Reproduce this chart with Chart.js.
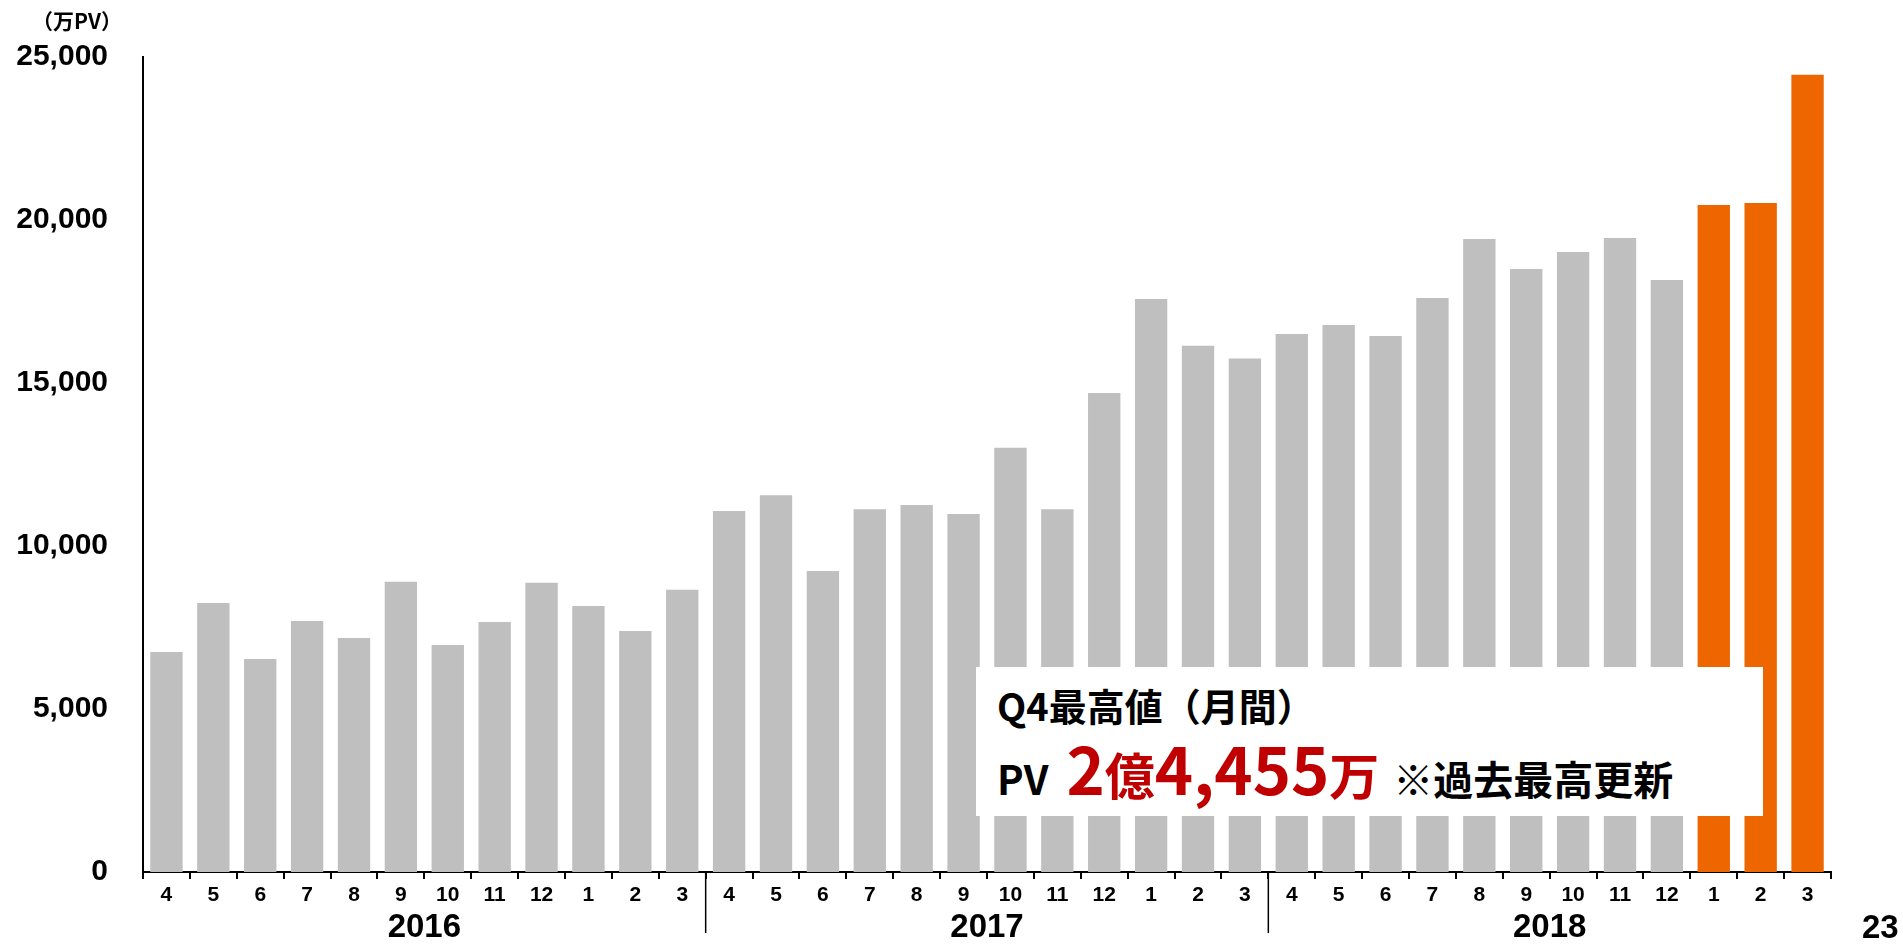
<!DOCTYPE html>
<html lang="ja">
<head>
<meta charset="utf-8">
<title>月間PV推移</title>
<script src="https://cdn.jsdelivr.net/npm/chart.js@4.4.1/dist/chart.umd.min.js"></script>
<style>
    html, body{
        margin: 0;
        padding: 0;
        background: #fff;
    }
    #page{
        position: relative;
        width: 1903px;
        height: 946px;
        overflow: hidden;
    }
    #pvChart{
        position: absolute;
        left: 0;
        top: 0;
    }
    .unit-label{
        position: absolute;
        left: 32px;
        top: 8px;
        font: 700 21px "Noto Sans CJK JP", sans-serif;
        line-height: 1.2;
        color: #000;
    }
    .page-number{
        position: absolute;
        left: 1862px;
        top: 907px;
        font: 700 33px "Liberation Sans", Arial, sans-serif;
        line-height: 40px;
        color: #000;
    }
    .note-box{
        position: absolute;
        left: 976px;
        top: 667px;
        width: 787px;
        height: 149px;
        background: #fff;
        font-family: "Noto Sans CJK JP", sans-serif;
        font-weight: 700;
        color: #000;
    }
    .note-line1{
        position: absolute;
        left: 21px;
        top: 19px;
        font-size: 38px;
        line-height: 1;
        white-space: nowrap;
    }
    .note-line2{
        position: absolute;
        left: 21px;
        top: 68px;
        display: flex;
        align-items: baseline;
        line-height: 1;
        white-space: nowrap;
    }
    .note-line2 .pv{ font-size: 40px; margin-right: 18px; }
    .note-line2 .red{ color: #C00000; margin-right: 14px; }
    .note-line2 .num{ font-size: 65px; }
    .note-line2 .kan{ font-size: 50px; }
    .note-line2 .tail{ font-size: 40px; }
</style>
</head>
<body>
<div id="page">
    <canvas id="pvChart" width="1903" height="946"></canvas>
    <div class="unit-label">（万PV）</div>
    <div class="page-number">23</div>
    <div class="note-box">
        <div class="note-line1">Q4最高値（月間）</div>
        <div class="note-line2">
            <span class="pv">PV</span>
            <span class="red"><span class="num">2</span><span class="kan">億</span><span class="num">4,455</span><span class="kan">万</span></span>
            <span class="tail">※過去最高更新</span>
        </div>
    </div>
</div>
<script>
// monthly page views (万PV), fiscal years starting in April
const months = ['4', '5', '6', '7', '8', '9', '10', '11', '12', '1', '2', '3',
                '4', '5', '6', '7', '8', '9', '10', '11', '12', '1', '2', '3',
                '4', '5', '6', '7', '8', '9', '10', '11', '12', '1', '2', '3'];
const years = ['2016', '2017', '2018'];
const monthsPerYear = 12;
const pageViews = [
    6750, 8250, 6530, 7700, 7180, 8900, 6960, 7670, 8870, 8160, 7390, 8660,
    11070, 11560, 9230, 11130, 11260, 10980, 13010, 11130, 14690, 17580, 16140, 15750,
    16500, 16780, 16440, 17610, 19420, 18500, 19020, 19450, 18160, 20460, 20520, 24455
];
const yTicks = [0, 5000, 10000, 15000, 20000, 25000];
const recordQuarterStart = 33;   // Q4 bars shown in orange

const GRAY = '#BFBFBF';
const ORANGE = '#ED6600';
const TICK_FONT = "'Liberation Sans', Arial, sans-serif";

const barColors = pageViews.map((v, i) => i >= recordQuarterStart ? ORANGE : GRAY);

// year labels under the month ticks + separators between the years
const yearGroupsPlugin = {
    id: 'yearGroups',
    afterDraw(chart){
        const ctx = chart.ctx;
        const x = chart.scales.x;
        const bottom = chart.chartArea.bottom;
        ctx.save();
        ctx.fillStyle = '#000';
        ctx.strokeStyle = '#000';
        ctx.lineWidth = 1.5;
        ctx.font = 'bold 33px ' + TICK_FONT;
        ctx.textAlign = 'center';
        ctx.textBaseline = 'middle';
        years.forEach((year, i) => {
            const first = i * monthsPerYear;
            const last = first + monthsPerYear - 1;
            const center = (x.getPixelForValue(first) + x.getPixelForValue(last)) / 2;
            ctx.fillText(year, center, 928);
            if(i > 0){
                const sep = (x.getPixelForValue(first - 1) + x.getPixelForValue(first)) / 2;
                ctx.beginPath();
                ctx.moveTo(sep, bottom);
                ctx.lineTo(sep, 933);
                ctx.stroke();
            }
        });
        ctx.restore();
    }
};

new Chart(document.getElementById('pvChart'), {
    type: 'bar',
    data: {
        labels: months,
        datasets: [{
            data: pageViews,
            backgroundColor: barColors,
            borderWidth: 0,
            barPercentage: 0.69,
            categoryPercentage: 1.0
        }]
    },
    options: {
        responsive: false,
        animation: false,
        devicePixelRatio: 1,
        layout: {
            padding: {top: 57, right: 72, left: 0, bottom: 0}
        },
        plugins: {
            legend: {display: false},
            tooltip: {enabled: false}
        },
        scales: {
            x: {
                grid: {
                    display: true,
                    offset: true,
                    drawOnChartArea: false,
                    drawTicks: true,
                    tickLength: 7,
                    color: '#000',
                    lineWidth: 2
                },
                border: {display: true, color: '#000', width: 2},
                ticks: {
                    color: '#000',
                    font: {family: TICK_FONT, size: 21, weight: 'bold'},
                    padding: 4,
                    maxRotation: 0,
                    autoSkip: false
                },
                afterFit(scale){
                    scale.height = 74;
                }
            },
            y: {
                min: 0,
                max: 25000,
                grid: {display: false, drawTicks: false},
                border: {display: true, color: '#000', width: 2},
                afterBuildTicks(scale){
                    scale.ticks = yTicks.map(v => ({value: v}));
                },
                ticks: {
                    color: '#000',
                    font: {family: TICK_FONT, size: 30, weight: 'bold'},
                    padding: 35,
                    callback: v => v.toLocaleString('en-US')
                },
                afterFit(scale){
                    scale.width = 143;
                }
            }
        }
    },
    plugins: [yearGroupsPlugin]
});
</script>
</body>
</html>
